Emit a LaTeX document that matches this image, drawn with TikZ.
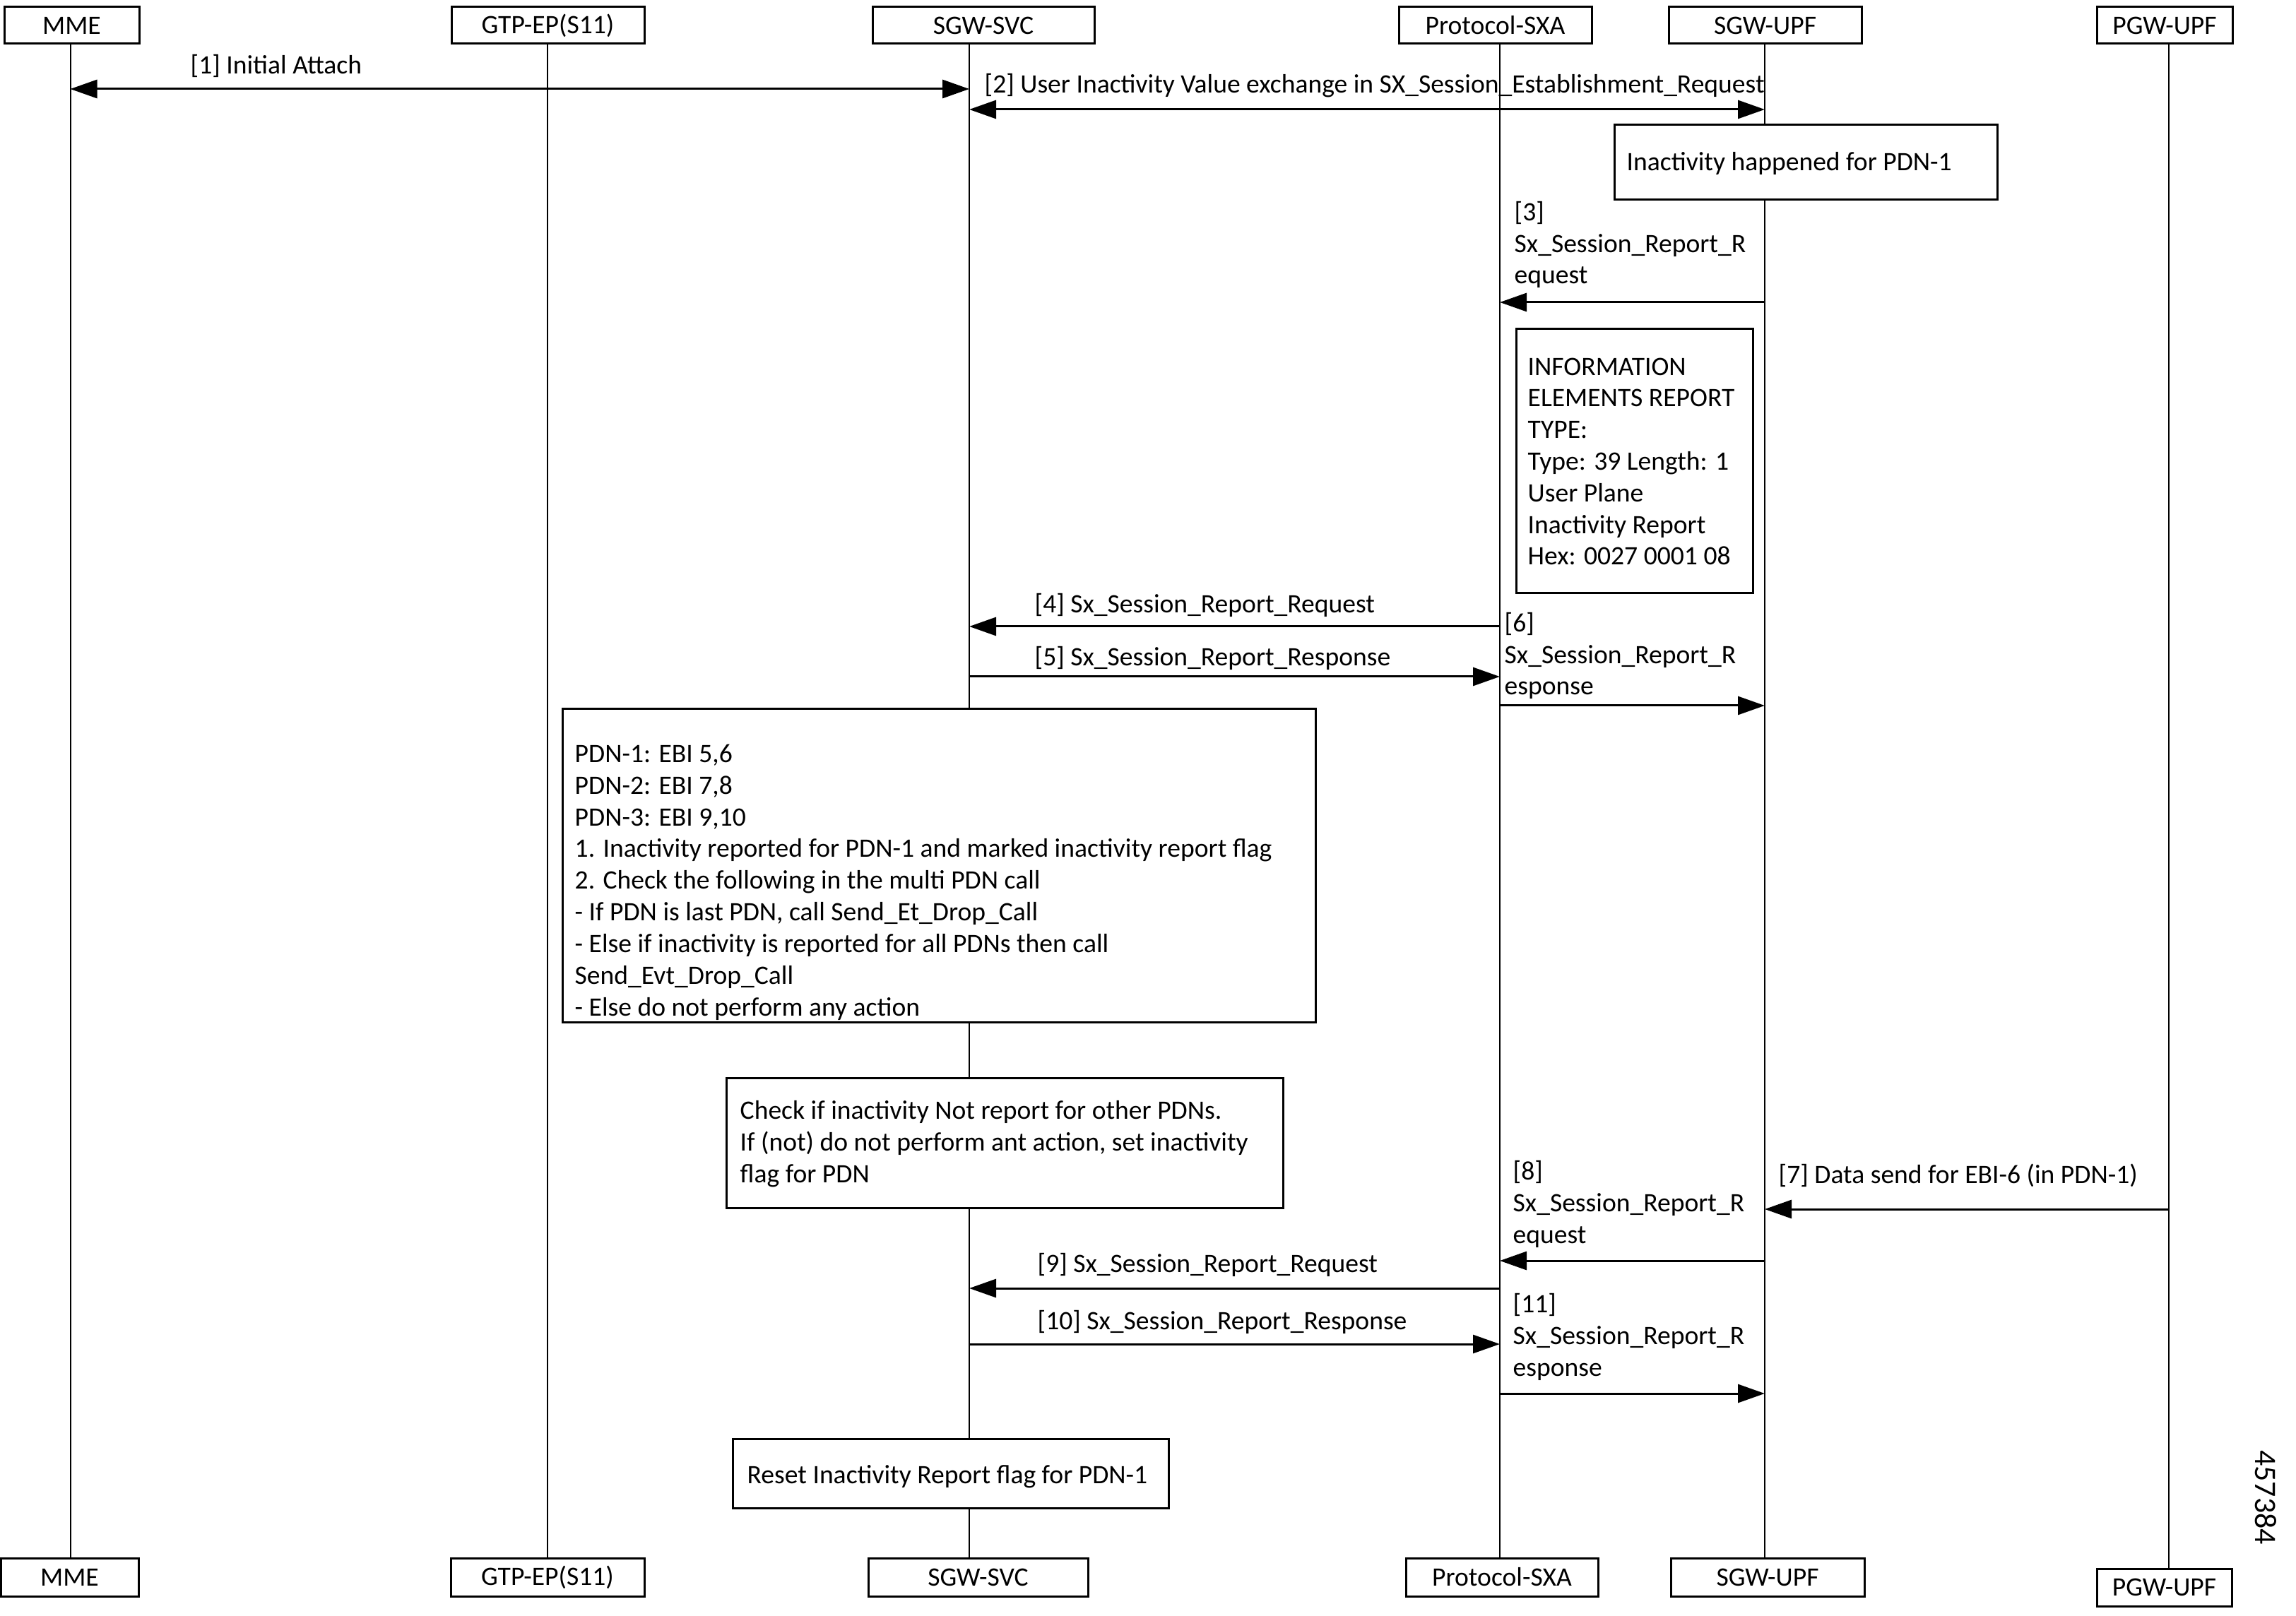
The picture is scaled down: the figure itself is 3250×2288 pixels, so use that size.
\documentclass[tikz,border=0pt]{standalone}
\usepackage{fontspec}
\setmainfont{Carlito}
\usetikzlibrary{arrows.meta}
\begin{document}
\begin{tikzpicture}[x=0.1mm,y=-0.1mm,
  every node/.style={font=\fontsize{10.7pt}{12.75pt}\selectfont, inner sep=0pt},
  part/.style={draw, line width=0.3mm, fill=white, minimum height=5.2mm, align=center},
  note/.style={draw, line width=0.3mm, fill=white},
  life/.style={line width=0.2mm},
  msg/.style={line width=0.3mm, -{Triangle[length=3.8mm,width=2.6mm]}},
  bimsg/.style={line width=0.3mm, {Triangle[length=3.8mm,width=2.6mm]}-{Triangle[length=3.8mm,width=2.6mm]}},
  lbl/.style={anchor=base west, align=left},
]
\useasboundingbox (0,0) rectangle (3250,2288);

% lifelines
\coordinate (mmeL1) at (99.5,62);  \coordinate (mmeL2) at (99.5,2206);
\coordinate (gtpL1) at (775,62);   \coordinate (gtpL2) at (775,2206);
\coordinate (svcL1) at (1372,62);  \coordinate (svcL2) at (1372,2206);
\coordinate (sxaL1) at (2123,62);  \coordinate (sxaL2) at (2123,2206);
\coordinate (upfL1) at (2498,62);  \coordinate (upfL2) at (2498,2206);
\coordinate (pgwL1) at (3070,62);  \coordinate (pgwL2) at (3070,2221);
\foreach \p in {mme,gtp,svc,sxa,upf,pgw} {\draw[life] (\p L1) -- (\p L2);}

% participants top
\node[part, minimum width=19.1mm] (mmeT) at (101.5,36) {MME};
\node[part, minimum width=27.3mm] (gtpT) at (775.5,36) {GTP-EP(S11)};
\node[part, minimum width=31.4mm] (svcT) at (1392,36) {SGW-SVC};
\node[part, minimum width=27.3mm] (sxaT) at (2116.5,36) {Protocol-SXA};
\node[part, minimum width=27.3mm] (upfT) at (2498.5,36) {SGW-UPF};
\node[part, minimum width=19.2mm] (pgwT) at (3064,36) {PGW-UPF};
% participants bottom
\node[part, minimum width=19.5mm, minimum height=5.4mm] (mmeB) at (98.5,2233) {MME};
\node[part, minimum width=27.4mm, minimum height=5.4mm] (gtpB) at (775,2233) {GTP-EP(S11)};
\node[part, minimum width=31.1mm, minimum height=5.4mm] (svcB) at (1384.5,2233) {SGW-SVC};
\node[part, minimum width=27.2mm, minimum height=5.4mm] (sxaB) at (2126,2233) {Protocol-SXA};
\node[part, minimum width=27.4mm, minimum height=5.4mm] (upfB) at (2502,2233) {SGW-UPF};
\node[part, minimum width=19.1mm, minimum height=5.3mm] (pgwB) at (3063.5,2247.5) {PGW-UPF};

% message end points
\coordinate (m1a) at (99.5,126);  \coordinate (m1b) at (1372,126);
\coordinate (m2a) at (1372,155);  \coordinate (m2b) at (2498,155);
\coordinate (m3a) at (2498,428);  \coordinate (m3b) at (2123,428);
\coordinate (m4a) at (2123,887);  \coordinate (m4b) at (1372,887);
\coordinate (m5a) at (1372,958);  \coordinate (m5b) at (2123,958);
\coordinate (m6a) at (2123,999);  \coordinate (m6b) at (2498,999);
\coordinate (m7a) at (3070,1712); \coordinate (m7b) at (2498,1712);
\coordinate (m8a) at (2498,1785); \coordinate (m8b) at (2123,1785);
\coordinate (m9a) at (2123,1824); \coordinate (m9b) at (1372,1824);
\coordinate (m10a) at (1372,1903); \coordinate (m10b) at (2123,1903);
\coordinate (m11a) at (2123,1973); \coordinate (m11b) at (2498,1973);

\draw[bimsg] (m1a) -- (m1b);
\draw[bimsg] (m2a) -- (m2b);
\foreach \i in {3,...,11} {\draw[msg] (m\i a) -- (m\i b);}

% message labels (anchor = baseline of last line)
\node[lbl] (l1) at (269,105) {[1] Initial Attach};
\node[lbl] (l2) at (1393,132) {[2] User Inactivity Value exchange in SX\_Session\_Establishment\_Request};
\node[lbl] (l3) at (2143,402) {[3]\\Sx\_Session\_Report\_R\\equest};
\node[lbl] (l4) at (1464,868) {[4] Sx\_Session\_Report\_Request};
\node[lbl] (l5) at (1464,943) {[5] Sx\_Session\_Report\_Response};
\node[lbl] (l6) at (2129,984) {[6]\\Sx\_Session\_Report\_R\\esponse};
\node[lbl] (l7) at (2517,1675) {[7] Data send for EBI-6 (in PDN-1)};
\node[lbl] (l8) at (2141,1760) {[8]\\Sx\_Session\_Report\_R\\equest};
\node[lbl] (l9) at (1468,1801) {[9] Sx\_Session\_Report\_Request};
\node[lbl] (l10) at (1468,1882) {[10] Sx\_Session\_Report\_Response};
\node[lbl] (l11) at (2141,1948) {[11]\\Sx\_Session\_Report\_R\\esponse};

% notes
\node[note, minimum width=54.2mm, minimum height=10.6mm] (n1) at (2556,230) {};
\node[lbl] (n1t) at (2302,242) {Inactivity happened for PDN-1};
\node[note, minimum width=33.5mm, minimum height=37.4mm] (n2) at (2313.5,653) {};
\node[lbl] (n2t) at (2162,800) {INFORMATION\\ELEMENTS REPORT\\TYPE:\\Type: 39 Length: 1\\User Plane\\Inactivity Report\\Hex: 0027 0001 08};
\node[note, minimum width=106.6mm, minimum height=44.4mm] (n3) at (1329,1225) {};
\node[lbl] (n3t) at (813,1438) {PDN-1: EBI 5,6\\PDN-2: EBI 7,8\\PDN-3: EBI 9,10\\1. Inactivity reported for PDN-1 and marked inactivity report flag\\2. Check the following in the multi PDN call\\- If PDN is last PDN, call Send\_Et\_Drop\_Call\\- Else if inactivity is reported for all PDNs then call\\Send\_Evt\_Drop\_Call\\- Else do not perform any action};
\node[note, minimum width=78.8mm, minimum height=18.4mm] (n4) at (1422,1618) {};
\node[lbl] (n4t) at (1047,1674) {Check if inactivity Not report for other PDNs.\\If (not) do not perform ant action, set inactivity\\flag for PDN};
\node[note, minimum width=61.7mm, minimum height=9.8mm] (n5) at (1345.5,2086) {};
\node[lbl] (n5t) at (1057,2100) {Reset Inactivity Report flag for PDN-1};

% figure number
\node[rotate=-90, font=\fontsize{12.5pt}{14pt}\selectfont] (fig) at (3207,2120) {457384};
\end{tikzpicture}
\end{document}
